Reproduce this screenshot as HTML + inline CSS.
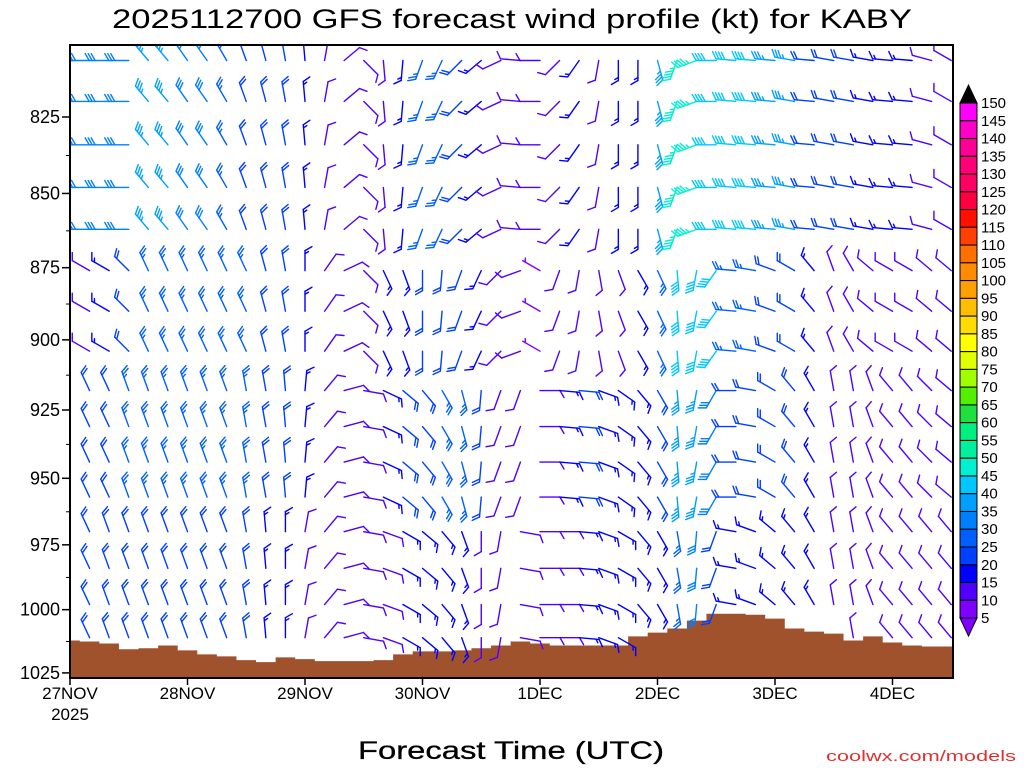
<!DOCTYPE html>
<html><head><meta charset="utf-8"><style>
html,body{margin:0;padding:0;background:#fff;}
svg{display:block;font-family:"Liberation Sans",sans-serif;}
</style></head><body>
<svg id="chart" width="1024" height="768" viewBox="0 0 1024 768" xmlns="http://www.w3.org/2000/svg">
<defs><clipPath id="plotclip"><rect x="70" y="45" width="883" height="633"/></clipPath></defs>
<text x="512" y="28" font-size="27" text-anchor="middle" textLength="800" lengthAdjust="spacingAndGlyphs" fill="#000">2025112700 GFS forecast wind profile (kt) for KABY</text>
<g id="terrain" clip-path="url(#plotclip)"></g>
<g id="barbs" clip-path="url(#plotclip)"></g>
<rect x="70" y="45" width="883" height="633" fill="none" stroke="#000" stroke-width="2"/>
<g id="yaxis"></g>
<g id="xaxis"></g>
<g id="colorbar"></g>
<text x="511" y="759" font-size="25" text-anchor="middle" textLength="306" lengthAdjust="spacingAndGlyphs" fill="#000" stroke="#000" stroke-width="0.3">Forecast Time (UTC)</text>
<text x="1016" y="761" font-size="15" text-anchor="end" textLength="190" lengthAdjust="spacingAndGlyphs" fill="#e03030">coolwx.com/models</text>
</svg>
<script>
// ---- data ----
const yTicks = [825, 850, 875, 900, 925, 950, 975, 1000, 1025];
const dayLabels = ["27NOV", "28NOV", "29NOV", "30NOV", "1DEC", "2DEC", "3DEC", "4DEC"];
const forecastHours = [0,4,8,12,16,20,24,28,32,36,40,44,48,52,56,60,64,68,72,76,80,84,88,92,96,100,104,108,112,116,120,124,128,132,136,140,144,148,152,156,160,164,168,172,176,180];
const levels = [807, 820, 834, 848, 862, 876, 890, 904, 918, 931, 944, 957, 970, 984, 998, 1011];
const levelBand = [0,0,0,0,0,1,1,1,2,2,2,2,3,3,3,3];
const upperDir = [270,270,270,270,320,320,325,325,330,340,345,350,355,10,50,135,175,185,200,205,225,230,245,275,270,225,215,190,180,180,165,200,250,270,275,275,275,280,275,280,280,280,275,275,285,300];
const upperSpd = [30,30,30,30,35,35,30,30,25,20,20,20,15,10,10,10,10,15,25,25,20,15,10,10,10,10,15,10,15,15,35,45,45,40,40,40,35,35,20,20,20,15,15,15,10,10];
const midDir = [290,300,300,315,335,335,335,335,335,335,345,350,0,35,65,135,155,160,180,185,200,205,225,250,300,200,190,170,160,150,155,175,190,215,275,280,290,300,320,340,330,310,300,300,310,310];
const midSpd = [15,10,15,20,25,25,25,25,25,25,20,20,15,10,10,10,15,15,20,20,20,15,10,10,5,10,10,10,10,15,25,40,40,40,25,25,20,20,15,10,10,10,10,10,10,10];
const lowDir = [330,335,335,340,340,340,340,340,340,350,350,355,5,40,75,100,115,130,140,150,165,185,200,200,90,95,95,110,125,140,150,175,190,210,270,280,300,320,330,350,350,340,320,320,315,310];
const lowSpd = [20,20,20,25,25,25,25,25,25,25,20,20,15,10,10,10,15,20,20,25,25,20,10,10,10,15,20,15,15,15,20,35,35,30,20,20,20,20,15,10,10,10,10,10,10,10];
const baseDir = [335,335,340,340,340,340,340,340,340,350,355,0,10,40,75,100,110,120,130,140,160,180,190,100,90,90,95,110,120,140,150,170,185,200,280,290,310,320,330,350,350,340,320,320,320,320];
const baseSpd = [20,20,20,20,20,20,20,20,20,20,15,15,10,10,10,10,10,15,15,15,15,10,10,10,10,10,15,15,15,15,15,25,30,20,15,15,15,15,15,10,10,10,10,10,10,10];
const surfacePressure = [1012.1,1012.5,1013.3,1015.6,1015.2,1014.1,1016.0,1017.6,1018.4,1019.9,1020.7,1018.8,1019.5,1020.3,1020.3,1020.3,1019.9,1017.6,1016.4,1016.4,1016.0,1015.2,1014.1,1012.5,1013.3,1014.1,1014.1,1014.1,1014.1,1010.5,1009.0,1007.4,1004.3,1001.6,1001.6,1002.0,1003.5,1007.4,1008.6,1009.4,1012.1,1010.5,1012.9,1014.1,1014.5,1014.5];
const cbLabels = [150,145,140,135,130,125,120,115,110,105,100,95,90,85,80,75,70,65,60,55,50,45,40,35,30,25,20,15,10,5];
const cbColors = ["#ff00ff","#ff00c8","#ff0096","#ff0078","#ff0064","#ff0040","#ff1000","#ff4000","#ff7000","#ff8c00","#ffa000","#ffbe00","#ffdc00","#ffff00","#e0ff00","#a0ff00","#50f000","#20e040","#00f080","#00f0a0","#00f0d0","#00c8ff","#00a0ff","#0080ff","#0060ff","#0040ff","#0000ff","#5000ff","#7f00ff"];

// ---- axes functions ----
const NS = "http://www.w3.org/2000/svg";
const PX0 = 70, PX1 = 953, PY0 = 45, PY1 = 678;
function xOf(h){ return PX0 + h * (117.5/24); }
function yOf(p){ return 117 + 2561 * Math.log(p/825); }
function mk(tag, attrs, parent){ const e = document.createElementNS(NS, tag); for (const k in attrs) e.setAttribute(k, attrs[k]); parent.appendChild(e); return e; }
function colorFor(s){ let i = Math.floor((s-5)/5); if (i < 0) i = 0; if (i > 28) i = 28; return cbColors[28 - i]; }

// ---- y axis ----
const yg = document.getElementById('yaxis');
yTicks.forEach((p, i) => {
  const y = yOf(p);
  const t = mk('line', {x1:62, x2:70, y1:y, y2:y, stroke:'#000', 'stroke-width':1.5}, yg);
  
  
  const lb = mk('text', {x:60, y:y+6, 'font-size':18, 'text-anchor':'end', fill:'#000'}, yg);
  lb.textContent = p;
  
  
  if (i < yTicks.length-1){
    const ym = yOf(p + 12.5);
    const m = mk('line', {x1:66, x2:70, y1:ym, y2:ym, stroke:'#000', 'stroke-width':1}, yg);
    
    
  }
});

// ---- x axis ----
const xg = document.getElementById('xaxis');
dayLabels.forEach((d, i) => {
  const x = xOf(i*24);
  const t = mk('line', {x1:x, x2:x, y1:678, y2:685, stroke:'#000', 'stroke-width':1.5}, xg);
  
  
  const lb = mk('text', {x:x, y:699, 'font-size':17, 'text-anchor':'middle', fill:'#000'}, xg);
  lb.textContent = d;
  
  
});
const yr = mk('text', {x:xOf(0), y:720, 'font-size':17, 'text-anchor':'middle', fill:'#000'}, xg);
yr.textContent = '2025';



// ---- terrain ----
const tg = document.getElementById('terrain');
let d = 'M ' + PX0 + ' ' + PY1;
forecastHours.forEach((h, i) => {
  const x0 = xOf(h) - 9.8, x1 = xOf(h) + 9.8, y = yOf(surfacePressure[i]);
  d += ' L ' + x0 + ' ' + y + ' L ' + x1 + ' ' + y;
});
d += ' L ' + PX1 + ' ' + PY1 + ' Z';
const tp = mk('path', {d:d, fill:'#a0522d'}, tg);



// ---- barbs ----
const bg = document.getElementById('barbs');
const dirBands = [upperDir, midDir, lowDir, baseDir];
const spdBands = [upperSpd, midSpd, lowSpd, baseSpd];
function drawBarb(bx, by, dir, spd){
  const s = Math.round(spd/5)*5;
  const col = colorFor(spd);
  const r = dir*Math.PI/180;
  const ux = Math.sin(r), uy = -Math.cos(r);
  const c60 = 0.5, s60 = 0.866;
  const fx = ux*c60 - uy*s60, fy = ux*s60 + uy*c60;
  const L = 20, FL = 8, SP = 3;
  const g = mk('g', {stroke:col, 'stroke-width':1.4, fill:col, 'stroke-linecap':'round'}, bg);
  
  
  const tx = bx + ux*L, ty = by + uy*L;
  mk('line', {x1:bx, y1:by, x2:tx, y2:ty}, g);
  let rem = s, pos = 0;
  while (rem >= 50){
    const ax = tx - ux*pos, ay = ty - uy*pos;
    const bx2 = tx - ux*(pos+4), by2 = ty - uy*(pos+4);
    mk('polygon', {points: ax+','+ay+' '+(ax+fx*FL)+','+(ay+fy*FL)+' '+bx2+','+by2}, g);
    pos += 5; rem -= 50;
  }
  while (rem >= 10){
    const ax = tx - ux*pos, ay = ty - uy*pos;
    mk('line', {x1:ax, y1:ay, x2:ax+fx*FL, y2:ay+fy*FL}, g);
    pos += SP; rem -= 10;
  }
  if (rem >= 5){
    if (pos === 0) pos = SP;
    const ax = tx - ux*pos, ay = ty - uy*pos;
    mk('line', {x1:ax, y1:ay, x2:ax+fx*FL*0.5, y2:ay+fy*FL*0.5}, g);
  }
}
levels.forEach((p, ri) => {
  const dirs = dirBands[levelBand[ri]], spds = spdBands[levelBand[ri]];
  forecastHours.forEach((h, ci) => {
    if (p > surfacePressure[ci]) return;
    drawBarb(xOf(h), yOf(p), dirs[ci], spds[ci]);
  });
});

// ---- colorbar ----
const cg = document.getElementById('colorbar');
const CBX = 960, CBW = 17, CBT = 103, CBH = 17.76;
const topTri = mk('polygon', {points:(CBX)+','+CBT+' '+(CBX+CBW)+','+CBT+' '+(CBX+CBW/2)+','+(CBT-18), fill:'#000', stroke:'#000'}, cg);


cbColors.forEach((c, i) => {
  const r = mk('rect', {x:CBX, y:CBT+i*CBH, width:CBW, height:CBH, fill:c, stroke:'#000', 'stroke-width':1}, cg);
  
  
});
const botY = CBT + cbColors.length*CBH;
const botTri = mk('polygon', {points:(CBX)+','+botY+' '+(CBX+CBW)+','+botY+' '+(CBX+CBW/2)+','+(botY+18), fill:'#7f00ff', stroke:'#000'}, cg);


cbLabels.forEach((v, i) => {
  const t = mk('text', {x:981, y:CBT+i*CBH+5, 'font-size':15, fill:'#000'}, cg);
  t.textContent = v;
  
  
});
</script>
</body></html>
